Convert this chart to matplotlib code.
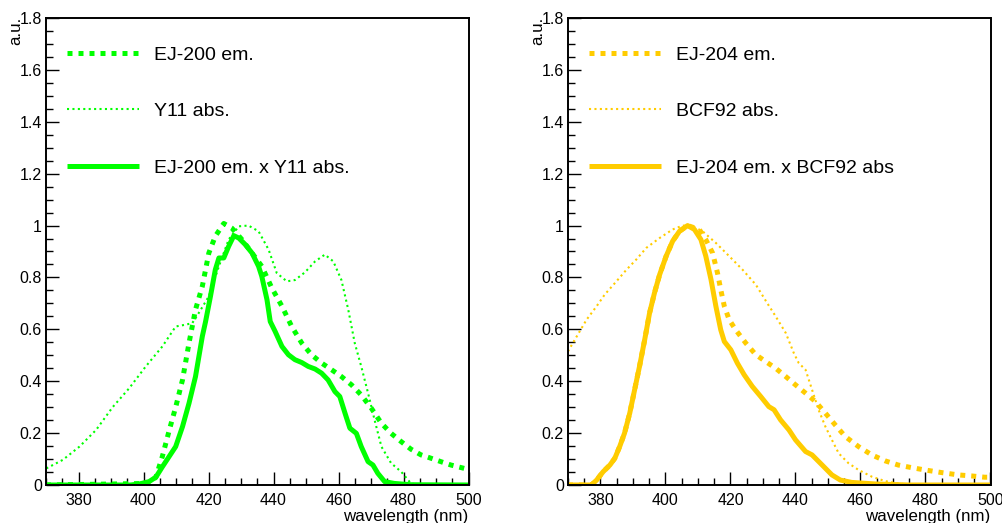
import matplotlib
matplotlib.use("Agg")
import matplotlib.pyplot as plt
from matplotlib.ticker import MultipleLocator, FuncFormatter

plt.rcParams['font.family'] = ['Liberation Sans', 'DejaVu Sans']

# ---------------- Left panel data (green) ----------------
ej200_x = [370, 401.7, 403.8, 405.8, 407.9, 409.9, 412, 414, 416, 418.1, 420.1, 422.1, 424.7,
           427.2, 430.3, 433.4, 436.4, 439.5, 442.6, 445.6, 448.7, 451.7, 454.8, 457.9, 460.9,
           464, 467, 470.1, 473.2, 476.2, 479.3, 482.3, 485.4, 488.5, 491.5, 494.6, 498.7, 500]
ej200_y = [0, 0.006, 0.03, 0.11, 0.21, 0.30, 0.405, 0.547, 0.676, 0.766, 0.894, 0.959, 1.008,
           0.99, 0.946, 0.894, 0.843, 0.759, 0.689, 0.611, 0.547, 0.502, 0.47, 0.444, 0.418,
           0.386, 0.347, 0.296, 0.238, 0.199, 0.167, 0.138, 0.116, 0.103, 0.09, 0.077, 0.064, 0.06]

y11_x = [370.1, 375.2, 380.3, 385.4, 390.5, 395.6, 400.7, 405.8, 409.9, 413, 415, 417, 420.1,
         423.2, 426.2, 429.3, 432.3, 435.4, 438.5, 441, 444.1, 446.6, 449.7, 452.8, 455.8,
         458.4, 460.9, 463, 465, 467, 469.1, 471.1, 473.2, 476.2, 479.3, 482.3, 485]
y11_y = [0.064, 0.097, 0.148, 0.212, 0.30, 0.373, 0.457, 0.534, 0.611, 0.618, 0.624, 0.663, 0.727,
         0.843, 0.946, 0.997, 1.0, 0.978, 0.907, 0.817, 0.785, 0.79, 0.82, 0.862, 0.888,
         0.862, 0.79, 0.676, 0.547, 0.457, 0.354, 0.251, 0.148, 0.084, 0.051, 0.006, 0.0]

prod_g_x = [370, 396, 398.7, 401.7, 403.8, 405.8, 407.9, 409.9, 412, 414, 416, 418.1, 419.1,
            420.6, 422.1, 423.2, 424.7, 426.2, 427.8, 429.3, 431.3, 433.4, 435.4, 436.4, 438,
            439, 440.5, 442.6, 444.6, 446.6, 448.7, 450.7, 452.8, 454.8, 456.8, 458.9, 460.4,
            462, 463.5, 465.5, 467, 469.1, 470.6, 472.1, 474.2, 477.2, 482.3, 500]
prod_g_y = [0, 0, 0.004, 0.013, 0.03, 0.07, 0.11, 0.148, 0.225, 0.315, 0.418, 0.573, 0.63,
            0.727, 0.83, 0.875, 0.875, 0.92, 0.961, 0.952, 0.927, 0.894, 0.843, 0.804, 0.714,
            0.63, 0.592, 0.534, 0.502, 0.483, 0.472, 0.457, 0.447, 0.431, 0.405, 0.36, 0.341,
            0.277, 0.219, 0.199, 0.148, 0.09, 0.077, 0.045, 0.013, 0.006, 0.001, 0]

# ---------------- Right panel data (orange/yellow) ----------------
prod_o_x = [370, 377.2, 378.8, 380.8, 382.9, 384.4, 385.9, 387.4, 389, 390.5, 392, 393.6,
            395.1, 396.6, 398.2, 400.2, 402.2, 404.3, 406.8, 408.9, 410.9, 412.4, 414,
            415.5, 417, 418.1, 420.1, 422.1, 424.2, 426.7, 429.3, 431.8, 433.4, 435.4, 438,
            440, 443.1, 445.1, 448.2, 451.2, 453.8, 457.3, 464.5, 474.7, 500]
prod_o_y = [0, 0, 0.019, 0.051, 0.077, 0.103, 0.148, 0.2, 0.277, 0.367, 0.457, 0.56,
            0.663, 0.74, 0.811, 0.882, 0.94, 0.978, 1.0, 0.985, 0.946, 0.882, 0.792,
            0.689, 0.598, 0.553, 0.521, 0.47, 0.425, 0.38, 0.341, 0.302, 0.29, 0.251, 0.212,
            0.174, 0.129, 0.116, 0.077, 0.039, 0.019, 0.01, 0.004, 0, 0]

ej204_x = [370, 377.2, 378.8, 380.8, 382.9, 384.4, 385.9, 387.4, 389, 390.5, 392, 393.6,
           395.1, 396.6, 398.2, 400.2, 402.2, 404.3, 406.8, 410.4, 412.4, 414.5, 416, 417,
           418.1, 419.6, 421.6, 424.7, 427.8, 430.8, 433.9, 437, 440, 443.1, 446.1, 449.2,
           452.2, 455.3, 459.4, 463.5, 467.6, 471.6, 475.7, 479.8, 484.9, 490, 494.1, 498.2, 500]
ej204_y = [0, 0, 0.019, 0.051, 0.077, 0.103, 0.148, 0.2, 0.277, 0.367, 0.457, 0.56,
           0.663, 0.74, 0.811, 0.882, 0.94, 0.978, 1.0, 0.985, 0.946, 0.894, 0.817, 0.753,
           0.689, 0.637, 0.598, 0.547, 0.502, 0.476, 0.45, 0.418, 0.386, 0.354, 0.322, 0.277,
           0.232, 0.187, 0.148, 0.116, 0.093, 0.077, 0.067, 0.058, 0.048, 0.039, 0.035, 0.03, 0.03]

bcf92_x = [370, 372.7, 375.7, 378.8, 381.3, 384.9, 388, 391, 394.1, 398.2, 402.2, 405.3,
           408.4, 411.4, 415.5, 419.6, 423.7, 427.8, 431.3, 433.9, 437, 439.5, 441, 443.1,
           445.1, 447.1, 449.2, 451.2, 453.3, 456.3, 459.4, 463.5, 467.6, 471.6, 475.7, 480]
bcf92_y = [0.515, 0.573, 0.637, 0.689, 0.734, 0.785, 0.83, 0.869, 0.914, 0.952, 0.985, 1.0,
           0.997, 0.978, 0.933, 0.882, 0.83, 0.772, 0.701, 0.65, 0.586, 0.508, 0.47, 0.444,
           0.367, 0.29, 0.225, 0.174, 0.122, 0.084, 0.058, 0.032, 0.015, 0.006, 0, 0]

panels = [
    dict(color='#00ff00',
         series=[(ej200_x, ej200_y, 'EJ-200 em.', 'dashed'),
                 (y11_x, y11_y, 'Y11 abs.', 'dotted'),
                 (prod_g_x, prod_g_y, 'EJ-200 em. x Y11 abs.', 'solid')]),
    dict(color='#ffcc00',
         series=[(ej204_x, ej204_y, 'EJ-204 em.', 'dashed'),
                 (bcf92_x, bcf92_y, 'BCF92 abs.', 'dotted'),
                 (prod_o_x, prod_o_y, 'EJ-204 em. x BCF92 abs', 'solid')]),
]

W, H = 1003, 523
fig = plt.figure(figsize=(W / 100, H / 100), dpi=100)

axes_px = [(46, 468.5), (568, 990.5)]
top_px, bot_px = 18, 485

def fmt(v, pos):
    s = ('%.1f' % v)
    if s.endswith('.0'):
        s = s[:-2]
    return s

for (lpx, rpx), panel in zip(axes_px, panels):
    wpx = rpx - lpx
    hpx = bot_px - top_px
    ax = fig.add_axes([lpx / W, (H - bot_px) / H, wpx / W, hpx / H])
    col = panel['color']
    handles = []
    for xs, ys, lab, style in panel['series']:
        if style == 'dashed':
            ln, = ax.plot(xs, ys, color=col, lw=3.6, linestyle=(0, (1.0, 1.2)),
                          dash_capstyle='butt', label=lab)
        elif style == 'dotted':
            ln, = ax.plot(xs, ys, color=col, lw=1.5, linestyle=(0, (1.0, 1.6)),
                          dash_capstyle='butt', label=lab)
        else:
            ln, = ax.plot(xs, ys, color=col, lw=3.6, solid_capstyle='butt',
                          solid_joinstyle='round', label=lab)
        handles.append(ln)
    ax.set_xlim(370, 500)
    ax.set_ylim(0, 1.8)
    ax.xaxis.set_major_locator(MultipleLocator(20))
    ax.xaxis.set_minor_locator(MultipleLocator(5))
    ax.yaxis.set_major_locator(MultipleLocator(0.2))
    ax.yaxis.set_minor_locator(MultipleLocator(0.05))
    ax.yaxis.set_major_formatter(FuncFormatter(fmt))
    ax.tick_params(which='both', direction='in', top=False, right=False,
                   labelsize=11.5, width=1.0, color='black')
    ax.tick_params(which='major', length=9.5)
    ax.tick_params(which='minor', length=5)
    ax.tick_params(axis='x', which='major', pad=6)
    ax.tick_params(axis='y', which='major', pad=3)
    for sp in ax.spines.values():
        sp.set_linewidth(1.4)
    # legend (handle starts ~21 px right of the axis, first row top ~46 px)
    ax.legend(handles=handles, loc='upper left', frameon=False,
              fontsize=14, handlelength=3.7, handletextpad=0.8,
              labelspacing=2.0, borderaxespad=0, borderpad=0,
              bbox_to_anchor=(21 / wpx, 1 - (46 - top_px) / hpx))
    # axis titles
    fig.text(rpx / W, (H - 509) / H, 'wavelength (nm)', ha='right', va='top', fontsize=12.2)
    fig.text((lpx - 30) / W, (H - 17) / H, 'a.u.', rotation=90, ha='center', va='top', fontsize=12.2)

fig.savefig('out.png', dpi=100)
